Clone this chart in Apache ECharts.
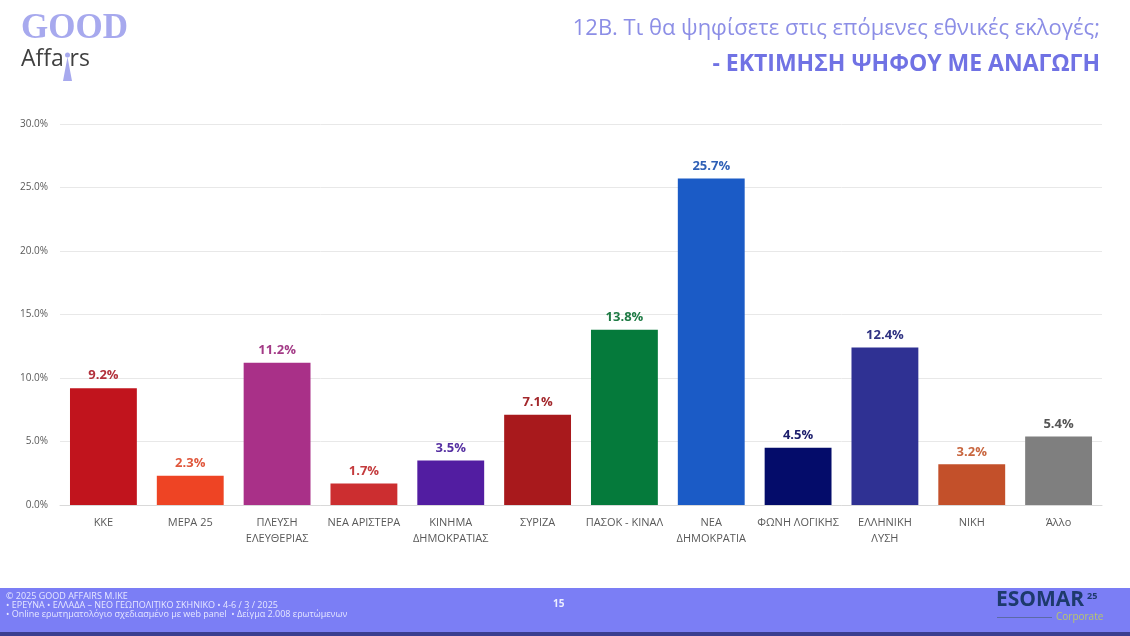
<!DOCTYPE html>
<html>
<head>
<meta charset="utf-8">
<script src="https://cdn.jsdelivr.net/npm/echarts@6/dist/echarts.min.js"></script>
<style>
html,body{margin:0;padding:0;background:#fff;}
#chart{width:1130px;height:636px;}
</style>
</head>
<body>
<div id="chart"></div>
<script>
const categories = ['ΚΚΕ','ΜΕΡΑ 25','ΠΛΕΥΣΗ\nΕΛΕΥΘΕΡΙΑΣ','ΝΕΑ ΑΡΙΣΤΕΡΑ','ΚΙΝΗΜΑ\nΔΗΜΟΚΡΑΤΙΑΣ','ΣΥΡΙΖΑ','ΠΑΣΟΚ - ΚΙΝΑΛ','ΝΕΑ\nΔΗΜΟΚΡΑΤΙΑ','ΦΩΝΗ ΛΟΓΙΚΗΣ','ΕΛΛΗΝΙΚΗ\nΛΥΣΗ','ΝΙΚΗ','Άλλο'];
const values = [9.2, 2.3, 11.2, 1.7, 3.5, 7.1, 13.8, 25.7, 4.5, 12.4, 3.2, 5.4];
const barColors = ['#c1141d','#ee4424','#a93088','#cc2e30','#521da1','#a8191c','#057a3b','#1b5bc6','#040c6a','#2f3193','#c3502a','#7f7f7f'];
const labelColors = ['#b2303b','#e0573c','#a33a86','#c43b3d','#5630a2','#a3282c','#1f7b45','#2f60b6','#1b1d6b','#2f3282','#c8663f','#555555'];
const yTicks = [0, 5, 10, 15, 20, 25, 30];

const chart = echarts.init(document.getElementById('chart'));
const FF = '"Open Sans", "Noto Sans", sans-serif';

chart.setOption({
  animation: false,
  backgroundColor: '#ffffff',
  grid: { left: 60, right: 28, top: 124, bottom: 131, containLabel: false },
  xAxis: {
    type: 'category',
    data: categories,
    axisTick: { show: false },
    axisLine: { show: true, lineStyle: { color: '#d9d9d9', width: 1 } },
    axisLabel: { interval: 0, color: '#595959', fontSize: 11, fontFamily: FF, margin: 10, lineHeight: 16 }
  },
  yAxis: {
    type: 'value',
    min: yTicks[0],
    max: yTicks[yTicks.length - 1],
    interval: 5,
    axisLine: { show: false },
    axisTick: { show: false },
    splitLine: { lineStyle: { color: '#e8e8e8', width: 1 } },
    axisLabel: { color: '#595959', fontSize: 10, fontFamily: FF, margin: 12, formatter: v => v.toFixed(1) + '%' }
  },
  series: [{
    type: 'bar',
    barWidth: '77%',
    data: values.map((v, i) => ({
      value: v,
      itemStyle: { color: barColors[i] },
      label: { color: labelColors[i] }
    })),
    label: {
      show: true,
      position: 'top',
      distance: 6,
      fontSize: 13,
      fontWeight: 'bold',
      fontFamily: FF,
      formatter: p => p.value.toFixed(1) + '%'
    }
  }],
  graphic: [
    { type: 'text', left: 21, top: 11, style: { text: 'GOOD', font: 'bold 35px "Liberation Serif", "DejaVu Serif", serif', fill: '#a7a9ee' } },
    { type: 'text', left: 21, top: 48, style: {
        text: 'Affa{i|i}rs',
        font: '23px "Open Sans", sans-serif', fill: '#404040',
        rich: { i: { font: '23px "Open Sans", sans-serif', fill: 'rgba(0,0,0,0)' } }
      } },
    { type: 'polygon', shape: { points: [[67.5, 57], [72, 81], [63, 81]] }, style: { fill: '#a7a9ee' } },
    { type: 'circle', shape: { cx: 67.5, cy: 55, r: 2.5 }, style: { fill: '#a7a9ee' } },
    { type: 'text', right: 30, top: 18, style: { text: '12Β. Τι θα ψηφίσετε στις επόμενες εθνικές εκλογές;', font: '22px "Open Sans", sans-serif', fill: '#8c8ee6', align: 'right' } },
    { type: 'text', right: 30, top: 53, style: { text: '- ΕΚΤΙΜΗΣΗ ΨΗΦΟΥ ΜΕ ΑΝΑΓΩΓΗ', font: 'bold 23px "Open Sans", sans-serif', fill: '#7072e4', align: 'right' } },
    { type: 'rect', shape: { x: 0, y: 588, width: 1130, height: 44 }, style: { fill: '#7b7ef5' }, z: -1 },
    { type: 'rect', shape: { x: 0, y: 632, width: 1130, height: 4 }, style: { fill: '#3b3e8f' }, z: -1 },
    { type: 'text', left: 6, top: 592, style: {
        text: '© 2025 GOOD AFFAIRS M.IKE\n• ΕΡΕΥΝΑ • ΕΛΛΑΔΑ – ΝΕΟ ΓΕΩΠΟΛΙΤΙΚΟ ΣΚΗΝΙΚΟ • 4-6 / 3 / 2025\n• Online ερωτηματολόγιο σχεδιασμένο με web panel  • Δείγμα 2.008 ερωτώμενων',
        font: '9px "Open Sans", sans-serif', fill: '#e6e7ff', lineHeight: 9 } },
    { type: 'text', left: 553, top: 599, style: { text: '15', font: 'bold 10px "Open Sans", sans-serif', fill: '#eceeff' } },
    { type: 'text', left: 996, top: 590, style: { text: 'ESOMAR', font: 'bold 21px "Open Sans", sans-serif', fill: '#1d3a6c' } },
    { type: 'text', left: 1087, top: 592, style: { text: '25', font: 'bold 9px "Open Sans", sans-serif', fill: '#1d3a6c' } },
    { type: 'rect', shape: { x: 997, y: 617, width: 55, height: 1 }, style: { fill: '#5c6aa6' } },
    { type: 'text', left: 1056, top: 612, style: { text: 'Corporate', font: '10px "Open Sans", sans-serif', fill: '#b8c66a' } }
  ]
});
</script>
</body>
</html>
